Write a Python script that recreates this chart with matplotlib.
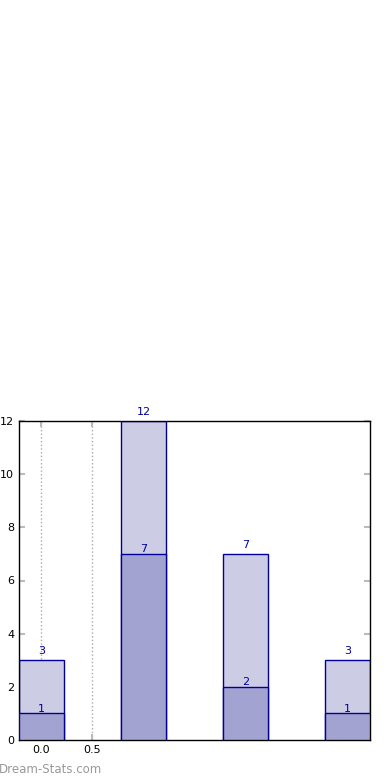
import matplotlib
matplotlib.use("Agg")
import matplotlib.pyplot as plt

positions = [0, 1, 2, 3]
totals = [3, 12, 7, 3]
subsets = [1, 7, 2, 1]
xtick_vals = [0.0, 0.5]
xtick_labels = ["0.0", "0.5"]
yticks = [0, 2, 4, 6, 8, 10, 12]

fig = plt.figure(figsize=(3.9, 7.8), dpi=100)
ax = fig.add_axes([19/390, 40/780, 351/390, 319/780])

w = 0.44
edge = "#000099"
ax.bar(positions, totals, width=w, color="#ccccE5", edgecolor=edge, linewidth=1, zorder=2)
ax.bar(positions, subsets, width=w, color="#a3a3d1", edgecolor=edge, linewidth=1, zorder=3)

for x, t, s in zip(positions, totals, subsets):
    ax.text(x, t + 0.15, str(t), ha="center", va="bottom", color="#000099", fontsize=8,
            zorder=4, clip_on=False)
    ax.text(x, s - 0.02, str(s), ha="center", va="bottom", color="#000099", fontsize=8, zorder=4)

ax.set_xlim(-0.22, 3.22)
ax.set_ylim(0, 12)
ax.set_xticks(xtick_vals)
ax.set_xticklabels(xtick_labels)
ax.set_yticks(yticks)
for xv in xtick_vals:
    ax.axvline(xv, color="#aaaaaa", linestyle=":", linewidth=1, zorder=1)
ax.tick_params(direction="in", top=True, right=True, color="#bbbbbb", length=4, width=1.5,
               labelsize=8, labelcolor="black")
for sp in ax.spines.values():
    sp.set_linewidth(1)
    sp.set_color("black")

fig.text(-0.002, 0.005, "Dream-Stats.com", color="#999999", fontsize=8.5, fontweight="normal",
         ha="left", va="bottom")

fig.savefig("out.png", dpi=100)
